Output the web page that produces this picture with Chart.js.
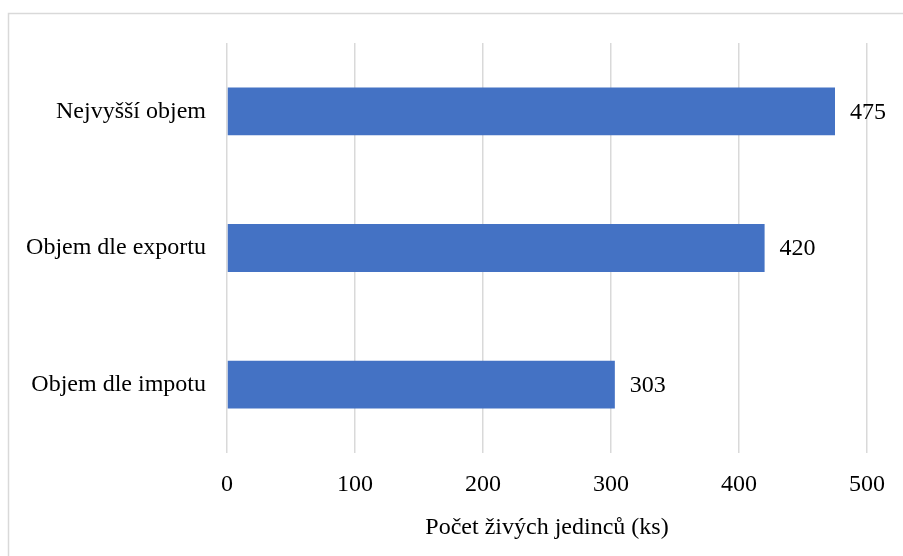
<!DOCTYPE html>
<html>
<head>
<meta charset="utf-8">
<script src="https://cdn.jsdelivr.net/npm/chart.js@4.4.1/dist/chart.umd.min.js"></script>
<style>
  html, body { margin: 0; padding: 0; background: #fff; }
  #wrap { width: 903px; height: 556px; position: relative; }
</style>
</head>
<body>
<div id="wrap"><canvas id="graf"></canvas></div>
<script>
// data
const kategorie = ['Nejvyšší objem', 'Objem dle exportu', 'Objem dle impotu'];
const hodnoty = [475, 420, 303];
const osaX = [0, 100, 200, 300, 400, 500];
const nazevOsy = 'Počet živých jedinců (ks)';

const PISMO = '"Liberation Serif", "Times New Roman", serif';

// ramecek okolo celeho grafu
const ramecek = {
    id: 'ramecek',
    beforeDraw(chart) {
        const c = chart.ctx;
        c.save();
        c.strokeStyle = '#d9d9d9';
        c.lineWidth = 1.5;
        c.strokeRect(8.5, 13.5, chart.width + 10, chart.height + 10);
        c.restore();
    }
};

// popisky hodnot za sloupci
const popisky = {
    id: 'popisky',
    afterDatasetsDraw(chart) {
        const c = chart.ctx;
        const meta = chart.getDatasetMeta(0);
        c.save();
        c.font = '24px ' + PISMO;
        c.fillStyle = '#000';
        c.textBaseline = 'middle';
        c.textAlign = 'left';
        meta.data.forEach((bar, i) => {
            c.fillText(hodnoty[i], bar.x + 15, bar.y + 1);
        });
        c.restore();
    }
};

new Chart(document.getElementById('graf'), {
    type: 'bar',
    data: {
        labels: kategorie,
        datasets: [{
            data: hodnoty,
            backgroundColor: '#4472c4',
            borderWidth: 0,
            categoryPercentage: 1,
            barPercentage: 0.35
        }]
    },
    options: {
        indexAxis: 'y',
        responsive: true,
        maintainAspectRatio: false,
        animation: false,
        layout: { padding: { left: 0, right: 36, top: 43, bottom: 0 } },
        plugins: {
            legend: { display: false },
            tooltip: { enabled: false }
        },
        scales: {
            x: {
                min: 0,
                max: 500,
                afterBuildTicks(axis) {
                    axis.ticks = osaX.map(v => ({ value: v }));
                },
                afterFit(axis) { axis.height = 103; },
                grid: { color: '#d9d9d9', lineWidth: 1.5, drawTicks: false },
                border: { display: false },
                ticks: {
                    color: '#000',
                    padding: 17,
                    font: { family: PISMO, size: 24 }
                },
                title: {
                    display: true,
                    text: nazevOsy,
                    color: '#000',
                    padding: { top: 18, bottom: 14 },
                    font: { family: PISMO, size: 24 }
                }
            },
            y: {
                afterFit(axis) { axis.width = 227; },
                grid: { display: false, drawTicks: false },
                border: { display: false },
                ticks: {
                    color: '#000',
                    padding: 21,
                    font: { family: PISMO, size: 24 }
                }
            }
        }
    },
    plugins: [ramecek, popisky]
});
</script>
</body>
</html>
